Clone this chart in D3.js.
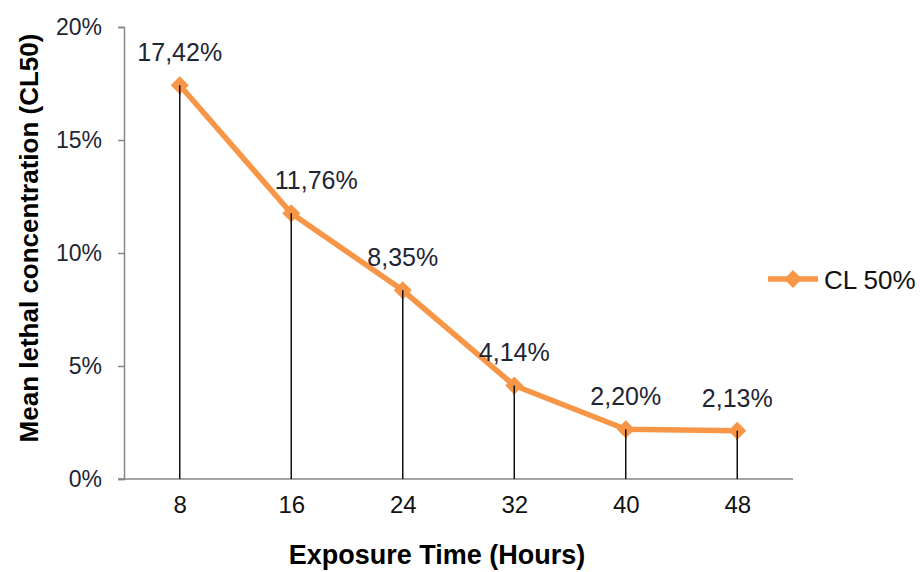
<!DOCTYPE html>
<html>
<head>
<meta charset="utf-8">
<script src="https://cdn.jsdelivr.net/npm/d3@7"></script>
<style>
  html, body { margin: 0; padding: 0; background: #fff; }
  svg { display: block; font-family: "Liberation Sans", Arial, sans-serif; }
</style>
</head>
<body>
<svg width="920" height="572"></svg>
<script>
// exposure time (hours) and mean lethal concentration
var hours = ["8", "16", "24", "32", "40", "48"];
var cl50 = [0.1742, 0.1176, 0.0835, 0.0414, 0.0220, 0.0213];
var yTicks = [0, 0.05, 0.10, 0.15, 0.20];
var seriesName = "CL 50%";

var svg = d3.select("svg"),
    orange = "#f79646",
    axisGrey = "#868686";

var x = d3.scalePoint().domain(hours).range([124, 793]).padding(0.5);
var y = d3.scaleLinear().domain([0, 0.2]).range([479, 27]);

var pct = function (v) { return d3.format(".0%")(v); };
var label = function (v) { return d3.format(".2f")(v * 100).replace(".", ",") + "%"; };

var data = hours.map(function (h, i) { return { hour: h, value: cl50[i] }; });

// y axis
var yAxis = svg.append("g")
    .attr("transform", "translate(124,0)")
    .call(d3.axisLeft(y).tickValues(yTicks).tickFormat(pct).tickSizeOuter(0).tickSize(6).tickPadding(16));
yAxis.select(".domain").attr("stroke", axisGrey).attr("stroke-width", 1.5);
yAxis.selectAll(".tick line").attr("stroke", axisGrey).attr("stroke-width", 1.5);
yAxis.selectAll(".tick text")
    .attr("font-size", 23).attr("fill", "#1e2533").attr("font-family", null);

// x axis (no tick marks)
var xAxis = svg.append("g")
    .attr("transform", "translate(0,479)")
    .call(d3.axisBottom(x).tickSize(0).tickPadding(17));
xAxis.select(".domain").attr("stroke", axisGrey).attr("stroke-width", 1.5)
    .attr("d", "M118,0H793");
xAxis.selectAll(".tick text")
    .attr("font-size", 24).attr("fill", "#111").attr("font-family", null);

// drop lines
svg.append("g").selectAll("line")
    .data(data)
  .enter().append("line")
    .attr("x1", function (d) { return x(d.hour); })
    .attr("x2", function (d) { return x(d.hour); })
    .attr("y1", function (d) { return y(d.value); })
    .attr("y2", y(0))
    .attr("stroke", "#111")
    .attr("stroke-width", 1.5);

// series line
var line = d3.line()
    .x(function (d) { return x(d.hour); })
    .y(function (d) { return y(d.value); });

svg.append("path")
    .datum(data)
    .attr("d", line)
    .attr("fill", "none")
    .attr("stroke", orange)
    .attr("stroke-width", 5.5)
    .attr("stroke-linejoin", "round");

function diamond(cx, cy, r) {
  return "M" + cx + "," + (cy - r) + "L" + (cx + r) + "," + cy +
         "L" + cx + "," + (cy + r) + "L" + (cx - r) + "," + cy + "Z";
}

svg.append("g").selectAll("path")
    .data(data)
  .enter().append("path")
    .attr("d", function (d) { return diamond(x(d.hour), y(d.value), 9); })
    .attr("fill", orange);

// re-draw drop line stubs over the markers
svg.append("g").selectAll("line")
    .data(data)
  .enter().append("line")
    .attr("x1", function (d) { return x(d.hour); })
    .attr("x2", function (d) { return x(d.hour); })
    .attr("y1", function (d) { return y(d.value); })
    .attr("y2", function (d) { return y(d.value) + 9; })
    .attr("stroke", "#111")
    .attr("stroke-width", 1.5);

// data labels (the 16h label was nudged right in the original)
svg.append("g").selectAll("text")
    .data(data)
  .enter().append("text")
    .attr("x", function (d) { return x(d.hour) + (d.hour === "16" ? 25 : 0); })
    .attr("y", function (d) { return y(d.value) - 24; })
    .attr("text-anchor", "middle")
    .attr("font-size", 25)
    .attr("fill", "#1e2533")
    .text(function (d) { return label(d.value); });

// legend
var legend = svg.append("g").attr("transform", "translate(768,279)");
legend.append("line")
    .attr("x1", 0).attr("x2", 50)
    .attr("stroke", orange).attr("stroke-width", 5.5);
legend.append("path")
    .attr("d", diamond(25, 0, 9))
    .attr("fill", orange);
legend.append("text")
    .attr("x", 56).attr("y", 10)
    .attr("font-size", 26)
    .attr("fill", "#111")
    .text(seriesName);

// axis titles
svg.append("text")
    .attr("transform", "translate(38,238) rotate(-90)")
    .attr("text-anchor", "middle")
    .attr("font-size", 26)
    .attr("font-weight", "bold")
    .attr("fill", "#000")
    .text("Mean lethal concentration (CL50)");

svg.append("text")
    .attr("x", 437).attr("y", 564)
    .attr("text-anchor", "middle")
    .attr("font-size", 27)
    .attr("font-weight", "bold")
    .attr("fill", "#000")
    .text("Exposure Time (Hours)");
</script>
</body>
</html>
